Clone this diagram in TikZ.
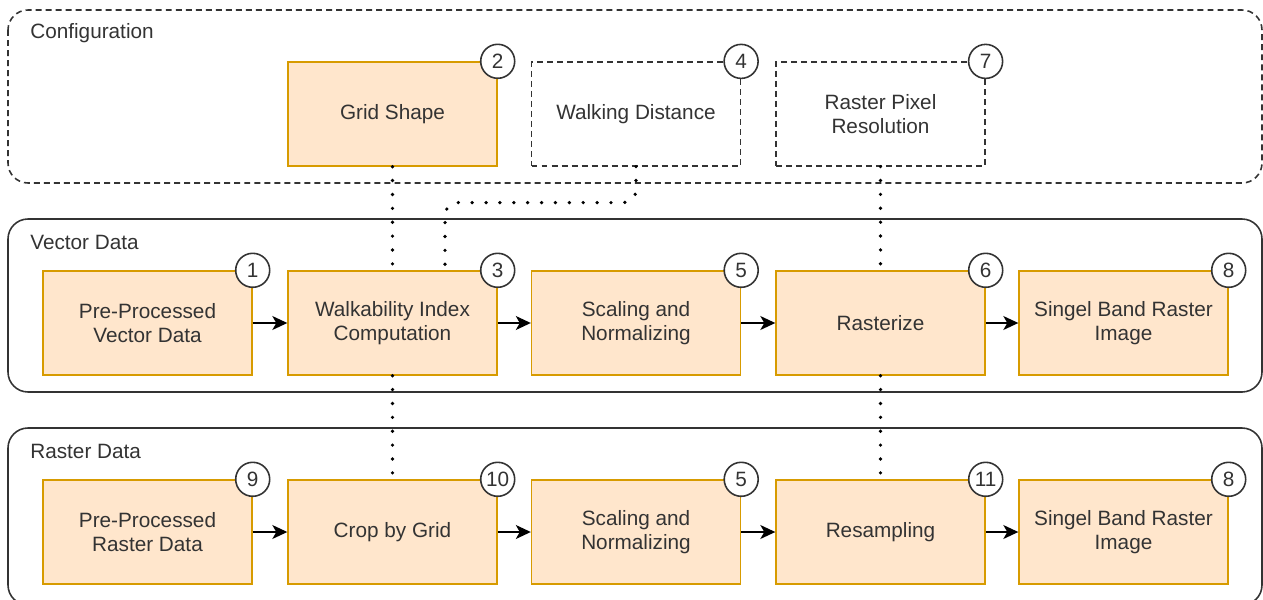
\documentclass[tikz,border=0pt]{standalone}
\usepackage{fontspec}
\setmainfont{Liberation Sans}
\usepackage{tikz}
\usetikzlibrary{
  positioning,
  arrows.meta,
  calc
}
\usepackage{xcolor}
\definecolor{stepfill}{HTML}{FFE6CC}
\definecolor{stepline}{HTML}{D79B00}
\definecolor{ink}{HTML}{333333}

\begin{document}
\begin{tikzpicture}[
  font=\fontsize{11.8}{13.6}\selectfont, text=ink,
  group/.style={draw=ink, line width=0.9pt, rounded corners=0.4cm},
  grouplabel/.style={anchor=west, inner sep=0pt},
  stepbox/.style={draw=stepline, fill=stepfill, line width=0.8pt, minimum width=4.18cm,
                  minimum height=2.08cm, align=center, inner sep=2pt},
  parambox/.style={draw=ink, fill=white, line width=0.7pt, dash pattern=on 3.4pt off 2.3pt,
                   minimum width=4.18cm, minimum height=2.08cm, align=center},
  badge/.style={circle, draw=ink, fill=white, line width=0.9pt, minimum size=0.68cm,
                inner sep=0pt},
  arr/.style={-{Stealth[length=3mm, width=2.8mm, inset=0.8mm]}, draw=black, line width=0.75pt},
  dots/.style={draw=black, line width=2.1pt, line cap=round, dash pattern=on 0pt off 7.9pt}
]
  \useasboundingbox (0,0) rectangle (25.26,-11.98);

  % groups
  \draw[group, dash pattern=on 3.4pt off 2.3pt] (0.16,-0.2) rectangle (25.24,-3.66);
  \draw[group] (0.16,-4.38) rectangle (25.24,-7.84);
  \draw[group] (0.16,-8.56) rectangle (25.24,-12.1);
  \node[grouplabel] (lconf) at (0.6,-0.66) {Configuration};
  \node[grouplabel] (lvec) at (0.6,-4.84) {Vector Data};
  \node[grouplabel] (lras) at (0.6,-9.02) {Raster Data};

  % configuration
  \node[stepbox] (grid) at (7.85,-2.28) {Grid Shape};
  \node[parambox] (walkdist) at (12.72,-2.28) {Walking Distance};
  \node[parambox] (pixres) at (17.61,-2.28) {Raster Pixel\\Resolution};

  % vector data
  \node[stepbox] (prevec) at (2.95,-6.46) {Pre-Processed\\Vector Data};
  \node[stepbox] (walkidx) at (7.85,-6.46) {Walkability Index\\Computation};
  \node[stepbox] (scalevec) at (12.72,-6.46) {Scaling and\\Normalizing};
  \node[stepbox] (rasterize) at (17.61,-6.46) {Rasterize};
  \node[stepbox] (bandvec) at (22.47,-6.46) {Singel Band Raster\\Image};

  % raster data
  \node[stepbox] (preras) at (2.95,-10.64) {Pre-Processed\\Raster Data};
  \node[stepbox] (crop) at (7.85,-10.64) {Crop by Grid};
  \node[stepbox] (scaleras) at (12.72,-10.64) {Scaling and\\Normalizing};
  \node[stepbox] (resample) at (17.61,-10.64) {Resampling};
  \node[stepbox] (bandras) at (22.47,-10.64) {Singel Band Raster\\Image};

  % dotted links
  \coordinate (walktap) at (8.9,-5.42);
  \draw[dots] (grid) -- (walkidx);
  \draw[dots] (walkidx) -- (crop);
  \draw[dots, rounded corners=0.25cm] (walkdist.south) -- ++(0,-0.72) -| (walktap);
  \draw[dots] (pixres) -- (rasterize);
  \draw[dots] (rasterize) -- (resample);

  % flow
  \draw[arr] (prevec) -- (walkidx);
  \draw[arr] (walkidx) -- (scalevec);
  \draw[arr] (scalevec) -- (rasterize);
  \draw[arr] (rasterize) -- (bandvec);
  \draw[arr] (preras) -- (crop);
  \draw[arr] (crop) -- (scaleras);
  \draw[arr] (scaleras) -- (resample);
  \draw[arr] (resample) -- (bandras);

  % step numbers
  \node[badge] (n2) at (grid.north east) {2};
  \node[badge] (n4) at (walkdist.north east) {4};
  \node[badge] (n7) at (pixres.north east) {7};
  \node[badge] (n1) at (prevec.north east) {1};
  \node[badge] (n3) at (walkidx.north east) {3};
  \node[badge] (n5a) at (scalevec.north east) {5};
  \node[badge] (n6) at (rasterize.north east) {6};
  \node[badge] (n8a) at (bandvec.north east) {8};
  \node[badge] (n9) at (preras.north east) {9};
  \node[badge] (n10) at (crop.north east) {10};
  \node[badge] (n5b) at (scaleras.north east) {5};
  \node[badge] (n11) at (resample.north east) {11};
  \node[badge] (n8b) at (bandras.north east) {8};
\end{tikzpicture}
\end{document}
